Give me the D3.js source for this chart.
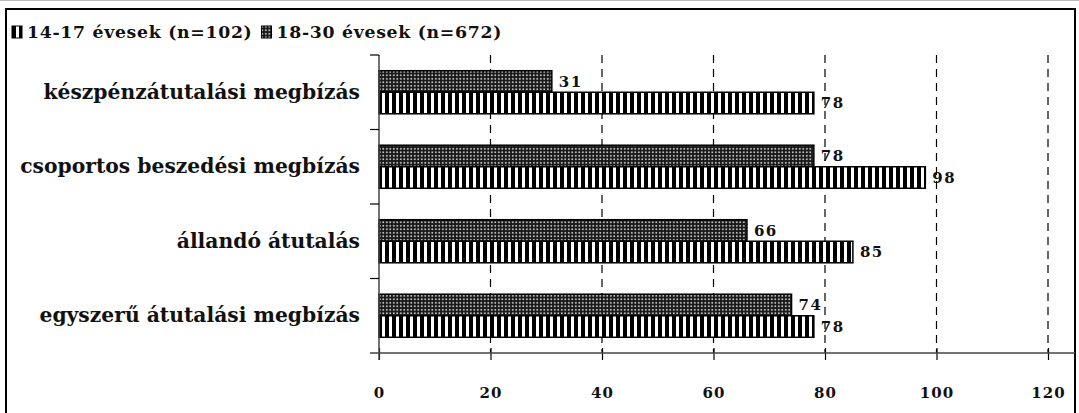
<!DOCTYPE html>
<html>
<head>
<meta charset="utf-8">
<script src="https://cdn.jsdelivr.net/npm/d3@7"></script>
<style>
  html, body { margin: 0; padding: 0; background: #fff; }
  svg { display: block; }
  svg text { font-family: "DejaVu Serif", serif; font-weight: bold; fill: #111; }
</style>
</head>
<body>
<svg id="chart" width="1079" height="413"></svg>
<script>
// Categories, top to bottom
const categories = [
  "készpénzátutalási megbízás",
  "csoportos beszedési megbízás",
  "állandó átutalás",
  "egyszerű átutalási megbízás"
];
// Series (legend order)
const seriesNames = ["14-17 évesek (n=102)", "18-30 évesek (n=672)"];
const values1417 = [78, 98, 85, 78];
const values1830 = [31, 78, 66, 74];
const xTicks = [0, 20, 40, 60, 80, 100, 120];

const FONT = "'DejaVu Serif', serif";
const svg = d3.select("#chart");
const W = 1079, H = 413;

// patterns: vertical stripes and dotted fill
const defs = svg.append("defs");
const stripes = defs.append("pattern").attr("id", "stripes")
  .attr("patternUnits", "userSpaceOnUse").attr("width", 7).attr("height", 7);
stripes.append("rect").attr("width", 7).attr("height", 7).attr("fill", "#fff");
stripes.append("rect").attr("x", 0).attr("width", 4).attr("height", 7).attr("fill", "#000");

const dots = defs.append("pattern").attr("id", "dots")
  .attr("patternUnits", "userSpaceOnUse").attr("width", 3.5).attr("height", 3.5);
dots.append("rect").attr("width", 3.5).attr("height", 3.5).attr("fill", "#1a1a1a");
dots.append("rect").attr("x", 1).attr("y", 1).attr("width", 1.6).attr("height", 1.6).attr("fill", "#d8d8d8");

// frame
svg.append("line").attr("x1", 0).attr("x2", W).attr("y1", 0.5).attr("y2", 0.5)
  .attr("stroke", "#bbb").attr("stroke-width", 1);
svg.append("rect").attr("x", 6).attr("y", 9).attr("width", 1069).attr("height", 420)
  .attr("fill", "none").attr("stroke", "#000").attr("stroke-width", 2);

// scales
const x = d3.scaleLinear().domain([0, 120]).range([379, 1048]);
const y = d3.scaleBand().domain(categories).range([55, 353]).paddingInner(0).paddingOuter(0);
const ySub = d3.scaleBand().domain(["18-30", "14-17"]).range([0, y.bandwidth()])
  .paddingInner(0).paddingOuter(0.73);

// dashed gridlines
svg.append("g").selectAll("line").data(xTicks.filter(d => d > 0)).join("line")
  .attr("x1", d => x(d)).attr("x2", d => x(d))
  .attr("y1", 55).attr("y2", 353)
  .attr("stroke", "#000").attr("stroke-width", 1.2)
  .attr("stroke-dasharray", "8,6");

// bars
const rows = categories.map((c, i) => ({ c, a: values1830[i], b: values1417[i] }));
const g = svg.append("g");
rows.forEach(r => {
  [["18-30", r.a, "url(#dots)"], ["14-17", r.b, "url(#stripes)"]].forEach(([k, v, fill]) => {
    const yy = y(r.c) + ySub(k);
    g.append("rect")
      .attr("x", x(0)).attr("y", yy)
      .attr("width", x(v) - x(0)).attr("height", ySub.bandwidth())
      .attr("fill", fill).attr("stroke", "#000").attr("stroke-width", 1.5);
    g.append("text")
      .attr("x", x(v) + 7).attr("y", yy + ySub.bandwidth() / 2)
      .attr("dy", "0.36em").attr("font-size", 15).attr("letter-spacing", 1.5)
      .text(v);
  });
});

// x axis
const xAxis = d3.axisBottom(x).tickValues(xTicks).tickSize(7).tickPadding(27).tickFormat(d3.format("d"));
const xa = svg.append("g").attr("transform", "translate(0,353)").call(xAxis);
xa.select(".domain").remove();
xa.selectAll(".tick line").attr("stroke", "#000").attr("stroke-width", 1.2).attr("y1", -5);
xa.selectAll(".tick text").attr("font-size", 15).attr("letter-spacing", 1)
  .style("font-family", FONT).style("font-weight", "bold").attr("fill", "#111");
svg.append("line").attr("x1", 370).attr("x2", 1075).attr("y1", 353).attr("y2", 353)
  .attr("stroke", "#444").attr("stroke-width", 1.5);

// y axis
const yAxis = d3.axisLeft(y).tickSize(0).tickPadding(19);
const ya = svg.append("g").attr("transform", "translate(379,0)").call(yAxis);
ya.select(".domain").remove();
ya.selectAll(".tick text").attr("font-size", 20.3)
  .style("font-family", FONT).style("font-weight", "bold").attr("fill", "#111");
svg.append("line").attr("x1", 379).attr("x2", 379).attr("y1", 55).attr("y2", 360)
  .attr("stroke", "#444").attr("stroke-width", 1.5);
// category boundary ticks
svg.append("g").selectAll("line").data(categories).join("line")
  .attr("x1", 370).attr("x2", 379)
  .attr("y1", d => y(d)).attr("y2", d => y(d))
  .attr("stroke", "#000").attr("stroke-width", 1.2);

// legend
const legend = svg.append("g").attr("transform", "translate(12,32)");
const legItems = [
  { name: seriesNames[0], fill: "url(#stripes)" },
  { name: seriesNames[1], fill: "url(#dots)" }
];
let lx = 0;
legItems.forEach(it => {
  legend.append("rect").attr("x", lx).attr("y", -6).attr("width", 10).attr("height", 12)
    .attr("fill", it.fill).attr("stroke", "#000").attr("stroke-width", 1);
  const t = legend.append("text").attr("x", lx + 15).attr("y", 0).attr("dy", "0.35em")
    .attr("font-size", 17.3).attr("letter-spacing", 0.7).text(it.name);
  lx += 15 + t.node().getComputedTextLength() + 9;
});
</script>
</body>
</html>
